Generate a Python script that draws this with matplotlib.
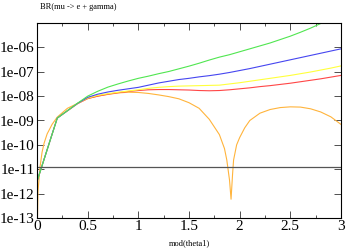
import numpy as np
import matplotlib
matplotlib.use('Agg')
import matplotlib.pyplot as plt
from matplotlib.ticker import LogLocator, MultipleLocator, FixedFormatter, NullFormatter

# x values (theta1) for the four upper curves
x_main = [0.0, 0.2, 0.4, 0.5, 0.6, 0.7, 0.8, 0.9, 1.0, 1.1, 1.2, 1.3, 1.4, 1.5,
          1.6, 1.7, 1.8, 1.9, 2.0, 2.1, 2.2, 2.3, 2.4, 2.5, 2.6, 2.7, 2.8, 2.9, 3.0]
# log10(BR)
green_log = [-11.5, -8.9, -8.29, -8.0, -7.8, -7.63, -7.5, -7.38, -7.27, -7.18, -7.08,
             -6.99, -6.88, -6.77, -6.65, -6.52, -6.40, -6.30, -6.18, -6.06, -5.94,
             -5.82, -5.68, -5.54, -5.38, -5.21, -5.02, -4.85, -4.68]
blue_log = [-11.5, -8.9, -8.3, -8.05, -7.92, -7.83, -7.76, -7.7, -7.64, -7.55, -7.46,
            -7.39, -7.32, -7.27, -7.21, -7.16, -7.10, -7.03, -6.95, -6.87, -6.78,
            -6.69, -6.60, -6.51, -6.42, -6.33, -6.24, -6.15, -6.06]
yellow_log = [-11.5, -8.9, -8.3, -8.08, -7.97, -7.9, -7.84, -7.79, -7.74, -7.68, -7.64,
              -7.61, -7.59, -7.58, -7.57, -7.56, -7.55, -7.50, -7.45, -7.39, -7.33,
              -7.27, -7.21, -7.15, -7.08, -7.01, -6.93, -6.85, -6.76]
red_log = [-11.5, -8.9, -8.31, -8.1, -8.0, -7.92, -7.86, -7.81, -7.77, -7.74, -7.73,
           -7.73, -7.74, -7.75, -7.77, -7.78, -7.77, -7.74, -7.70, -7.66, -7.61,
           -7.57, -7.52, -7.47, -7.41, -7.35, -7.29, -7.22, -7.15]

# orange curve (has a zero near theta1 ~ 1.92)
x_orange = [0.0, 0.01, 0.03, 0.05, 0.07, 0.1, 0.12, 0.15, 0.2, 0.3, 0.4, 0.5, 0.6,
            0.7, 0.8, 0.9, 1.0, 1.1, 1.2, 1.3, 1.4, 1.5, 1.6, 1.7, 1.77, 1.8, 1.85,
            1.873, 1.9, 1.915, 1.93, 1.94, 1.97, 2.0, 2.05, 2.1, 2.2, 2.3, 2.4, 2.5,
            2.6, 2.7, 2.8, 2.9, 3.0]
orange_log = [-14.0, -11.9, -10.9, -10.3, -9.93, -9.55, -9.39, -9.15, -8.86, -8.5,
              -8.3, -8.1, -8.0, -7.93, -7.87, -7.84, -7.85, -7.89, -7.95, -8.02,
              -8.11, -8.27, -8.5, -8.95, -9.39, -9.58, -10.15, -10.62, -11.45, -12.23,
              -11.2, -10.62, -10.0, -9.7, -9.3, -9.0, -8.7, -8.55, -8.47, -8.44,
              -8.45, -8.52, -8.65, -8.85, -9.16]

meg_bound = 1.2e-11

y_ticks = [1e-13, 1e-12, 1e-11, 1e-10, 1e-09, 1e-08, 1e-07, 1e-06]
y_labels = ['1e-13', '1e-12', '1e-11', '1e-10', '1e-09', '1e-08', '1e-07', '1e-06']
x_ticks = [0, 0.5, 1, 1.5, 2, 2.5, 3]
x_labels = ['0', '0.5', '1', '1.5', '2', '2.5', '3']

plt.rcParams['font.family'] = ['Liberation Serif', 'DejaVu Serif']

fig = plt.figure(figsize=(3.46, 2.49), dpi=100)
ax = fig.add_axes([37/346, 31/249, 304/346, 195/249])

lw = 0.8
ax.plot(x_orange, 10**np.array(orange_log), color='#ffb43c', lw=lw)
ax.plot(x_main, 10**np.array(red_log), color='#ff4646', lw=lw)
ax.plot(x_main, 10**np.array(yellow_log), color='#ffff3c', lw=lw)
ax.plot(x_main, 10**np.array(blue_log), color='#4646f0', lw=lw)
ax.plot(x_main, 10**np.array(green_log), color='#50e650', lw=lw)
ax.axhline(meg_bound, color='#555555', lw=0.9)

ax.set_yscale('log')
ax.set_xlim(0, 3)
ax.set_ylim(1e-13, 1e-5)

ax.set_yticks(y_ticks)
ax.yaxis.set_major_formatter(FixedFormatter(y_labels))
ax.yaxis.set_minor_locator(LogLocator(base=10, subs=np.arange(2, 10)))
ax.yaxis.set_minor_formatter(NullFormatter())
ax.set_xticks(x_ticks)
ax.set_xticklabels(x_labels)
ax.xaxis.set_minor_locator(MultipleLocator(0.25))

ax.tick_params(which='both', direction='in', top=True, right=True, labelsize=11,
               width=0.6, color='#333333')
ax.tick_params(which='major', length=5)
ax.tick_params(axis='y', which='major', pad=1.5)
ax.tick_params(axis='x', which='major', pad=1.5)
ax.tick_params(which='minor', length=2.5)
for s in ax.spines.values():
    s.set_linewidth(0.8)

fig.text(40/346, 1 - 7/249, 'BR(mu -> e + gamma)', fontsize=6, va='center', ha='left')
fig.text(189/346, 1 - 243/249, 'mod(theta1)', fontsize=6, va='center', ha='center')

fig.savefig('out.png', dpi=100)
